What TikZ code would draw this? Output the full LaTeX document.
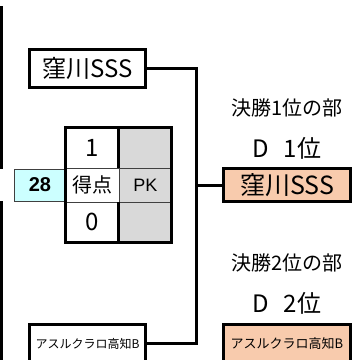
\documentclass[tikz,border=0pt]{standalone}
\usepackage{fontspec}
\setmainfont{Noto Sans CJK JP}
\newfontfamily\latinfont{Liberation Sans}
\usetikzlibrary{positioning}
\definecolor{peach}{RGB}{248,203,173}
\definecolor{paleaqua}{RGB}{204,255,255}
\definecolor{cellgray}{RGB}{217,217,217}
\newcommand{\fsz}[1]{\fontsize{#1}{#1}\selectfont}

\begin{document}
\begin{tikzpicture}[x=1pt,y=-1pt,
team/.style={draw,line width=3pt,inner sep=0pt,outer sep=0pt,minimum width=116pt,minimum height=38pt},
winner/.style={team,fill=peach,minimum width=127pt},
cell/.style={draw=darkgray,line width=0.8pt,inner sep=0pt,outer sep=0pt,minimum width=53pt},
bar/.style={line width=3pt}]
\useasboundingbox (0,0) rectangle (358,360);
\foreach \y in {7,47,87,127,202,242,282,322} \draw[bar] (-20,\y) rectangle (2,\y+40);
\node[team,font=\fsz{24}] (kubo) at (87.5,68.5) {窪川SSS};
\node[team,font=\fsz{12}] (azul) at (87.5,343.5) {アスルクラロ高知B};
\node[font=\fsz{20}] (div1) at (287,108) {決勝1位の部};
\node[font=\fsz{24}] (rank1) at (287,148) {D\hspace{.6em}1位};
\node[winner,minimum height=33pt,font=\fsz{25}] (win1) at (287,185) {窪川SSS};
\node[font=\fsz{20}] (div2) at (287,263) {決勝2位の部};
\node[font=\fsz{24}] (rank2) at (287,303) {D\hspace{.6em}2位};
\node[winner,font=\fsz{13}] (win2) at (287,343.5) {アスルクラロ高知B};
\coordinate (join) at (197,185);
\draw[bar] (kubo.east) -| (join) |- (azul.east);
\draw[bar] (join) -- (win1.west);
\node[cell,minimum height=41pt,font=\fsz{24}] (goal1) at (92.5,147.5) {1};
\node[cell,fill=cellgray,minimum height=41pt,right=0pt of goal1] (pk1) {};
\node[cell,minimum height=34pt,font=\fsz{20},below=0pt of goal1] (score) {得点};
\node[cell,fill=cellgray,minimum height=34pt,font={\latinfont\fsz{18}},right=0pt of score] (pk) {PK};
\node[cell,minimum height=40pt,font=\fsz{24},below=0pt of score] (goal2) {0};
\node[cell,fill=cellgray,minimum height=40pt,right=0pt of goal2] (pk2) {};
\node[draw=darkgray,line width=0.8pt,fill=paleaqua,minimum width=52pt,minimum height=32pt,inner sep=0pt,outer sep=0pt,font={\latinfont\bfseries\fsz{20}},left=0pt of score] (match) {28};
\draw[bar] (goal1.north west) rectangle (pk2.south east);
\draw[bar] (goal1.north east) -- (goal1.south east) (goal2.north east) -- (goal2.south east);
\end{tikzpicture}
\end{document}
